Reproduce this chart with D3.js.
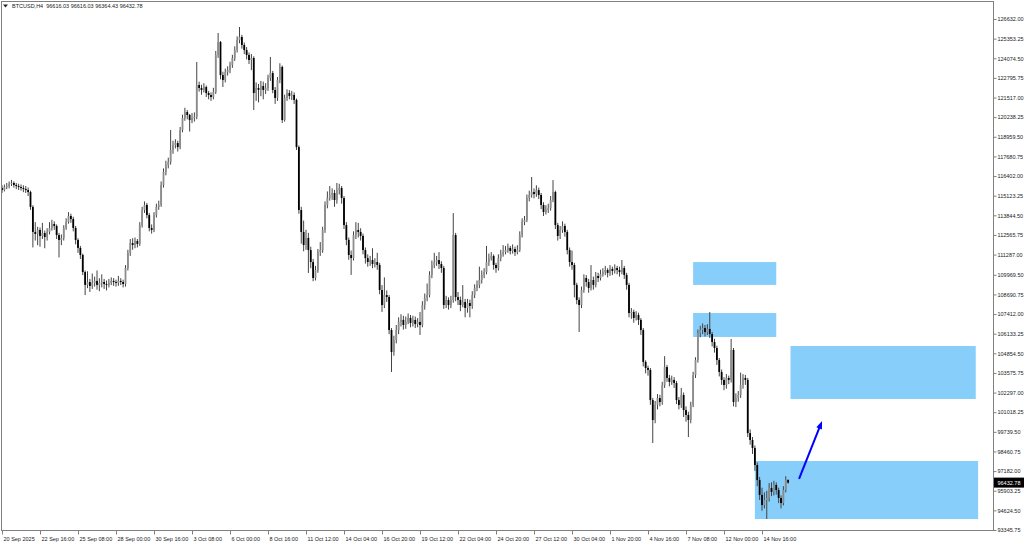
<!DOCTYPE html>
<html>
<head>
<meta charset="utf-8">
<script src="https://cdn.jsdelivr.net/npm/d3@7"></script>
<style>
  body { margin: 0; background: #fff; }
  svg { display: block; }
  .axis text { font-family: "Liberation Sans", Arial, sans-serif; font-size: 5.5px; fill: #222; }
  .axis line { stroke: #808080; }
</style>
</head>
<body>
<script>
// BTCUSD H4 candles (USD)
var opens = [
  115620,115490,115690,115750,115880,115950,115820,115750,115690,115620,
  115560,115490,115360,114390,112760,112630,112890,112500,112690,112430,
  112760,113020,113280,113150,112560,112240,112370,113020,113410,113800,
  113600,113020,112240,111720,111260,110150,109310,109500,109240,109440,
  109570,109310,109440,109500,109370,109310,109440,109570,109500,109440,
  109570,109500,109370,110410,111390,112040,111910,112170,111980,113210,
  114190,114520,113860,113020,112890,113860,114390,114520,115820,116670,
  117120,117320,118100,118420,118550,118290,119400,120180,120570,120380,
  120050,120180,120250,122330,122140,122010,122200,121810,121680,121550,
  121880,124290,125130,122980,122660,123180,123310,123640,124090,124610,
  125260,125460,124940,124610,124290,123960,124090,121810,122140,122010,
  122270,122010,122140,122790,123110,122010,121490,122660,123510,120050,
  121490,121810,121620,121680,121360,118290,114190,112760,111910,112370,
  111580,110800,109760,110280,111450,111580,112890,114520,114970,115170,
  115300,114840,115490,115620,114970,113210,112240,111260,111060,112560,
  112890,112760,112500,111580,111060,110800,110930,110670,110800,110610,
  108980,108000,108650,108520,106370,104940,105720,106370,106900,107030,
  106700,106900,107160,106830,107030,106760,106900,106700,108000,108460,
  108650,109960,110610,110800,110930,110670,110410,108000,108330,108000,
  108330,112560,108520,108330,108000,108200,107810,108130,107940,108650,
  109110,109310,109630,109960,110150,110800,111060,111190,110610,110410,
  111060,111320,111450,111580,111720,111520,111650,111450,111580,112560,
  113410,113540,114970,115170,115360,115230,115490,115170,114520,114060,
  114190,114320,114840,115360,113210,112500,112890,113150,112760,111580,
  110800,110610,109310,108330,108000,108980,109760,109500,109110,109630,
  109310,109890,109760,110020,110150,110280,110090,110350,110220,110410,
  110280,110150,110410,109960,109310,107480,107550,107160,107350,107030,
  106370,104290,103900,103770,101810,100510,101490,101940,101680,102790,
  103960,103250,102990,103120,102920,101810,101490,102140,101160,100840,
  100510,101490,103440,104420,106180,106370,106500,106240,106440,106110,
  105590,105200,104420,103640,103120,102790,103250,103120,105070,101680,
  101940,102140,102790,103250,103120,99660,99210,98690,97580,96600,
  95630,94970,95300,95430,96080,95820,96280,95950,95430,95100,
  95950,96616.03
];
var highs = [
  115800,115850,115950,116050,116150,116050,115950,115900,115850,115800,
  115750,115650,115450,114500,113400,113100,113050,113350,112850,113000,
  113400,113550,113450,113250,112700,112600,113200,113650,114050,113950,
  113750,113150,112350,111850,111350,110250,110200,109700,110050,109850,
  110250,109750,110000,109700,109600,109700,109800,109750,109650,109900,
  109750,109650,110600,111600,112300,112350,112400,112300,113400,114400,
  114750,114650,114000,113250,114050,114600,114800,116050,116900,117400,
  117600,119400,118700,118800,118700,119600,120400,120850,120700,120450,
  120500,120550,123830,122550,122350,122450,122300,121950,121850,122150,
  124550,125720,125200,123200,123400,123550,123850,124300,124850,125500,
  126110,125600,125100,124800,124450,124350,124200,122500,122400,122600,
  122550,122450,123000,124160,123250,122200,122850,123750,123600,121700,
  122050,122000,121950,121850,121450,118400,114400,113500,112900,112700,
  111800,111000,110550,111650,112100,113100,114750,115400,115750,115600,
  115500,115950,115900,115750,115100,113400,112400,111550,112800,113400,
  113350,113000,112650,111750,111300,111200,111700,111050,111400,110750,
  109300,109800,108950,108650,106500,106000,106700,107200,107400,107300,
  107250,107450,107350,107300,107250,107150,107550,108250,108750,109400,
  110200,110900,111400,111200,111450,110850,110550,108600,108500,108600,
  113990,112700,108850,108550,109300,108400,108400,108350,108900,109350,
  109600,110500,110250,110400,111850,111350,111450,111300,110750,111300,
  111600,111900,111850,112000,111850,111950,111800,111900,112800,113650,
  113800,115200,115450,116340,115600,115800,115650,115300,114700,114500,
  114600,115100,116140,115450,113350,113150,113450,113300,112900,111750,
  111550,110750,109450,108500,109200,110000,109950,109700,110600,109850,
  110150,110100,110300,110400,110550,110400,110600,110500,110650,110550,
  110500,110930,110550,110100,109450,107800,107700,107600,107500,107150,
  106500,104400,104050,103900,101950,101750,102200,102150,103000,104670,
  104100,103450,103400,103300,103050,102000,102600,102300,101400,101050,
  101700,103650,104600,106400,106650,106800,106700,106750,107550,106250,
  105800,105350,104550,103800,103300,103500,103400,105790,105200,102250,
  102400,103600,103500,103450,103250,99900,99400,98850,97750,96800,
  96100,95800,95900,96400,96450,96550,96450,96100,95600,96200,
  96850,96616.03
];
var lows = [
  115300,115400,115550,115600,115750,115650,115550,115500,115450,115350,
  115300,115100,114200,111750,112200,111900,111800,112300,111700,112200,
  112600,112850,112900,112300,111100,111900,112200,112900,113300,113350,
  112800,111950,111400,111000,109950,108650,109100,108850,109050,109200,
  109000,108900,109150,109050,108950,109150,109300,109250,109200,109250,
  109300,109150,109200,110250,111200,111600,111700,111750,111850,113050,
  114000,113650,112800,112650,112750,113700,114200,114400,115650,116450,
  116900,117150,117850,118200,118000,118150,119250,120000,120100,119300,
  119850,119950,120100,121900,121700,121850,121550,121400,121300,121400,
  121750,124100,122700,122200,122500,122950,123100,123450,123900,124450,
  125050,124700,124350,124000,123700,123300,120700,121300,121200,121600,
  121400,121750,121950,122600,121800,121100,121300,122450,119860,119950,
  121300,121400,121350,121100,118100,113950,112000,111500,111600,110090,
  110400,109550,109600,110100,111200,111400,112700,114300,114800,114850,
  114400,114600,115200,114600,112950,111900,110950,109960,110900,112300,
  112400,112200,111300,110700,110500,110550,110400,110450,110300,108700,
  107550,107800,108200,106100,103640,104700,105500,106100,106600,106400,
  106450,106750,106550,106600,106500,106550,106050,106550,107700,108250,
  108500,109750,110400,110550,110350,110100,107750,107800,107700,107800,
  108150,108250,108000,107600,107850,107200,107500,107200,107750,108450,
  108900,109100,109400,109750,110000,110550,110900,110300,110100,110250,
  110850,111150,111300,111400,111300,111350,111200,111300,111450,112400,
  113200,113400,114750,115000,114950,115050,114900,114250,113800,113900,
  114000,114150,114700,112950,112200,112300,112700,112450,111300,110500,
  110300,108500,108050,106240,107800,108800,109200,108800,108950,109000,
  109150,109500,109600,109850,109950,109800,109900,109950,110050,110000,
  109850,110000,109700,109000,107200,107100,106850,107000,106700,106050,
  104000,103550,103400,101500,99010,100300,101200,101400,101500,102600,
  103000,102700,102800,102600,101550,101200,101300,100700,100400,99400,
  100300,101350,103250,104250,105900,106100,105950,106050,105850,105300,
  104900,104100,103350,102800,102450,102550,102850,102950,101400,101350,
  101700,101950,102550,102800,99400,98900,98300,97200,96200,95300,
  94600,94750,94060,95200,95550,95600,95650,95100,94750,94950,
  95800,96364.43
];
var closes = [
  115490,115690,115750,115880,115950,115820,115750,115690,115620,115560,
  115490,115360,114390,112760,112630,112890,112500,112690,112430,112760,
  113020,113280,113150,112560,112240,112370,113020,113410,113800,113600,
  113020,112240,111720,111260,110150,109310,109500,109240,109440,109570,
  109310,109440,109500,109370,109310,109440,109570,109500,109440,109570,
  109500,109370,110410,111390,112040,111910,112170,111980,113210,114190,
  114520,113860,113020,112890,113860,114390,114520,115820,116670,117120,
  117320,118100,118420,118550,118290,119400,120180,120570,120380,120050,
  120180,120250,122330,122140,122010,122200,121810,121680,121550,121880,
  124290,125130,122980,122660,123180,123310,123640,124090,124610,125260,
  125460,124940,124610,124290,123960,124090,121810,122140,122010,122270,
  122010,122140,122790,123110,122010,121490,122660,123510,120050,121490,
  121810,121620,121680,121360,118290,114190,112760,111910,112370,111580,
  110800,109760,110280,111450,111580,112890,114520,114970,115170,115300,
  114840,115490,115620,114970,113210,112240,111260,111060,112560,112890,
  112760,112500,111580,111060,110800,110930,110670,110800,110610,108980,
  108000,108650,108520,106370,104940,105720,106370,106900,107030,106700,
  106900,107160,106830,107030,106760,106900,106700,108000,108460,108650,
  109960,110610,110800,110930,110670,110410,108000,108330,108000,108330,
  112560,108520,108330,108000,108200,107810,108130,107940,108650,109110,
  109310,109630,109960,110150,110800,111060,111190,110610,110410,111060,
  111320,111450,111580,111720,111520,111650,111450,111580,112560,113410,
  113540,114970,115170,115360,115230,115490,115170,114520,114060,114190,
  114320,114840,115360,113210,112500,112890,113150,112760,111580,110800,
  110610,109310,108330,108000,108980,109760,109500,109110,109630,109310,
  109890,109760,110020,110150,110280,110090,110350,110220,110410,110280,
  110150,110410,109960,109310,107480,107550,107160,107350,107030,106370,
  104290,103900,103770,101810,100510,101490,101940,101680,102790,103960,
  103250,102990,103120,102920,101810,101490,102140,101160,100840,100510,
  101490,103440,104420,106180,106370,106500,106240,106440,106110,105590,
  105200,104420,103640,103120,102790,103250,103120,105070,101680,101940,
  102140,102790,103250,103120,99660,99210,98690,97580,96600,95630,
  94970,95300,95430,96080,95820,96280,95950,95430,95100,95950,
  96616.03,96432.78
];

// time axis: a label every 16 bars
var xLabelBars = [0,16,32,48,64,80,96,112,128,144,160,176,192,208,224,240,256,272,288,304,320];
var xLabels = ["20 Sep 2025","22 Sep 16:00","25 Sep 08:00","28 Sep 00:00","30 Sep 16:00",
  "3 Oct 08:00","6 Oct 00:00","8 Oct 16:00","11 Oct 12:00","14 Oct 04:00","16 Oct 20:00",
  "19 Oct 12:00","22 Oct 04:00","24 Oct 20:00","27 Oct 12:00","30 Oct 04:00","1 Nov 20:00",
  "4 Nov 16:00","7 Nov 08:00","12 Nov 00:00","14 Nov 16:00"];

// price axis labels
var priceTicks = [126632.00,125353.25,124074.50,122795.75,121517.00,120238.25,118959.50,
  117680.75,116402.00,115123.25,113844.50,112565.75,111287.00,109969.50,108690.75,107412.00,
  106133.25,104854.50,103575.75,102297.00,101018.25,99739.50,98460.75,97182.00,95903.25,
  94624.50,93345.75];

// zones drawn on the chart (bar index range, price range)
var zoneStart = [291, 291, 332, 317];
var zoneEnd = [326, 326, 410, 411];
var zoneTop = [110800, 107480, 105330, 97840];
var zoneBottom = [109310, 105920, 101880, 94060];

// arrow: [bar, price]
var arrowFrom = [335.6, 96670];
var arrowTo = [345.3, 100450];

var headerSymbol = "BTCUSD,H4";
var headerValues = [96616.03, 96616.03, 96364.43, 96432.78];

var svgWidth = 1024;
var svgHeight = 544;
var barStep = 2.375;
var frameRight = 993.5;
var frameBottom = 530.5;

var svg = d3.select("body")
  .append("svg")
  .attr("width", svgWidth)
  .attr("height", svgHeight);

var xScale = d3.scaleLinear()
  .domain([0, 400])
  .range([2, 2 + 400 * barStep]);

var yScale = d3.scaleLinear()
  .domain([93345.75, 126632])
  .range([530, 19]);

// zones go under the candles
var zones = zoneStart.map(function(s, i) {
  return { start: s, end: zoneEnd[i], top: zoneTop[i], bottom: zoneBottom[i] };
});
svg.selectAll("rect.zone")
  .data(zones)
  .enter()
  .append("rect")
  .attr("class", "zone")
  .attr("x", d => xScale(d.start))
  .attr("width", d => xScale(d.end) - xScale(d.start))
  .attr("y", d => yScale(d.top))
  .attr("height", d => yScale(d.bottom) - yScale(d.top))
  .attr("fill", "#87cefa");

var candles = closes.map(function(c, i) {
  return { i: i, open: opens[i], high: highs[i], low: lows[i], close: c };
});

var candleGroup = svg.append("g");

candleGroup.selectAll("line")
  .data(candles)
  .enter()
  .append("line")
  .attr("x1", d => xScale(d.i))
  .attr("x2", d => xScale(d.i))
  .attr("y1", d => yScale(d.high))
  .attr("y2", d => yScale(d.low))
  .attr("stroke", "#444")
  .attr("stroke-width", 1);

candleGroup.selectAll("rect")
  .data(candles)
  .enter()
  .append("rect")
  .attr("x", d => xScale(d.i) - 0.9)
  .attr("width", 1.8)
  .attr("y", d => yScale(Math.max(d.open, d.close)))
  .attr("height", d => Math.max(0.8, Math.abs(yScale(d.open) - yScale(d.close))))
  .attr("fill", d => d.close >= d.open ? "#8c8c8c" : "#000");

// arrow
var ax1 = xScale(arrowFrom[0]), ay1 = yScale(arrowFrom[1]);
var ax2 = xScale(arrowTo[0]), ay2 = yScale(arrowTo[1]);
var ang = Math.atan2(ay2 - ay1, ax2 - ax1);
var headLen = 8, headHalf = 3;
svg.append("line")
  .attr("x1", ax1).attr("y1", ay1)
  .attr("x2", ax2 - Math.cos(ang) * headLen * 0.6)
  .attr("y2", ay2 - Math.sin(ang) * headLen * 0.6)
  .attr("stroke", "#0000ff")
  .attr("stroke-width", 2);
var bx = ax2 - Math.cos(ang) * headLen, by = ay2 - Math.sin(ang) * headLen;
svg.append("polygon")
  .attr("points", [
    [ax2, ay2],
    [bx - Math.sin(ang) * headHalf, by + Math.cos(ang) * headHalf],
    [bx + Math.sin(ang) * headHalf, by - Math.cos(ang) * headHalf]
  ].map(p => p.join(",")).join(" "))
  .attr("fill", "#0000ff");

// frame
svg.append("rect")
  .attr("x", 1.5)
  .attr("y", 1.5)
  .attr("width", frameRight - 1.5)
  .attr("height", frameBottom - 1.5)
  .attr("fill", "none")
  .attr("stroke", "#808080");

// price axis
var rightAxis = d3.axisRight(yScale)
  .tickValues(priceTicks)
  .tickSize(3)
  .tickPadding(1)
  .tickFormat(d3.format(".2f"));
var yAxisG = svg.append("g")
  .classed("axis", true)
  .attr("transform", "translate(" + frameRight + ",0)")
  .call(rightAxis);
yAxisG.select(".domain").remove();

// time axis
var bottomAxis = d3.axisBottom(xScale)
  .tickValues(xLabelBars)
  .tickSize(4)
  .tickPadding(3)
  .tickFormat((d, i) => xLabels[i]);
var xAxisG = svg.append("g")
  .classed("axis", true)
  .attr("transform", "translate(0," + frameBottom + ")")
  .call(bottomAxis);
xAxisG.select(".domain").remove();
xAxisG.selectAll("text").attr("text-anchor", "start").attr("x", 1);

// current price marker
var lastPrice = headerValues[3];
svg.append("rect")
  .attr("x", frameRight + 0.5)
  .attr("y", yScale(lastPrice) - 5)
  .attr("width", svgWidth - frameRight)
  .attr("height", 10)
  .attr("fill", "#000");
svg.append("text")
  .attr("x", frameRight + 4)
  .attr("y", yScale(lastPrice) + 2)
  .attr("font-family", "Liberation Sans, Arial, sans-serif")
  .attr("font-size", "5.5px")
  .attr("fill", "#fff")
  .text(d3.format(".2f")(lastPrice));

// header
svg.append("path")
  .attr("d", "M3,4.5 L8,4.5 L5.5,7.5 Z")
  .attr("fill", "#222");
svg.append("text")
  .attr("x", 12)
  .attr("y", 8)
  .attr("font-family", "Liberation Sans, Arial, sans-serif")
  .attr("font-size", "5.5px")
  .attr("fill", "#222")
  .attr("xml:space", "preserve")
  .text(headerSymbol + "  " + headerValues.map(d3.format(".2f")).join(" "));
</script>
</body>
</html>
